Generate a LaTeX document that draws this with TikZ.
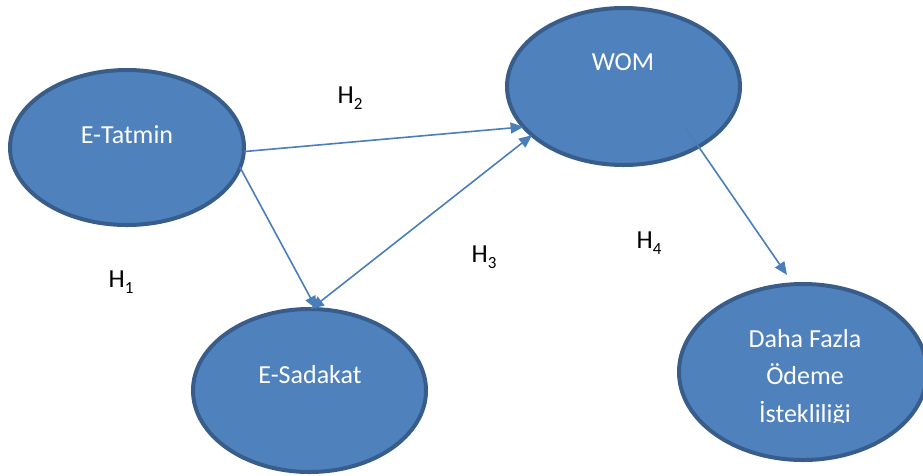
\documentclass[tikz,border=0pt]{standalone}
\usepackage{fontspec}
\setmainfont{Carlito}
\usetikzlibrary{arrows.meta,shapes.geometric}
\definecolor{fillblue}{HTML}{4F81BD}
\definecolor{edgeblue}{HTML}{385D8A}
\definecolor{arrowblue}{HTML}{4A7EBB}
\newcommand\hlab[1]{H\raisebox{-0.22em}{\fontsize{17}{17}\selectfont #1}}
\begin{document}
\begin{tikzpicture}[x=1pt,y=-1pt,
  oval/.style={ellipse, fill=fillblue, draw=edgeblue, line width=4pt, inner sep=0pt, outer sep=0pt},
  ovaltext/.style={text=white, font=\fontsize{26}{37.5}\selectfont, inner sep=0pt, align=center},
  hyplabel/.style={text=black, font=\fontsize{26}{30}\selectfont, inner sep=0pt},
  conn/.style={draw=arrowblue, line width=1.6pt, -{Triangle[length=13pt,width=11pt]}},
  connboth/.style={draw=arrowblue, line width=1.6pt, {Triangle[length=13pt,width=11pt]}-{Triangle[length=13pt,width=11pt]}}]
\clip (0,0) rectangle (923,475);
% ellipses
\node[oval, minimum width=234pt, minimum height=155pt] (tat) at (127,147.5) {};
\node[oval, minimum width=233pt, minimum height=157pt] (wom) at (623.5,86.5) {};
\node[oval, minimum width=233pt, minimum height=163pt] (sad) at (309.5,390.5) {};
\node[oval, minimum width=248pt, minimum height=176pt] (daha) at (803,372) {};
% texts
\node[ovaltext] (tattext) at (127,135) {E-Tatmin};
\node[ovaltext] (womtext) at (623,62) {WOM};
\node[ovaltext] (sadtext) at (310,375) {E-Sadakat};
\begin{scope}
  \clip (680,290) rectangle (923,422);
  \node[ovaltext] (dahatext) at (805,378) {Daha Fazla\\Ödeme\\İstekliliği};
\end{scope}
% hypothesis labels
\node[hyplabel] (h1) at (121,282) {\hlab{1}};
\node[hyplabel] (h2) at (350,98) {\hlab{2}};
\node[hyplabel] (h3) at (484,257) {\hlab{3}};
\node[hyplabel] (h4) at (649,243) {\hlab{4}};
% connectors
\coordinate (h4s) at (685,127);
\coordinate (h4e) at (787,275);
\draw[conn] (tat.-2) -- (wom.202);
\draw[conn] (tat.-10) -- (sad.85);
\draw[connboth] (sad.89) -- (wom.208);
\draw[conn] (h4s) -- (h4e);
\end{tikzpicture}
\end{document}
